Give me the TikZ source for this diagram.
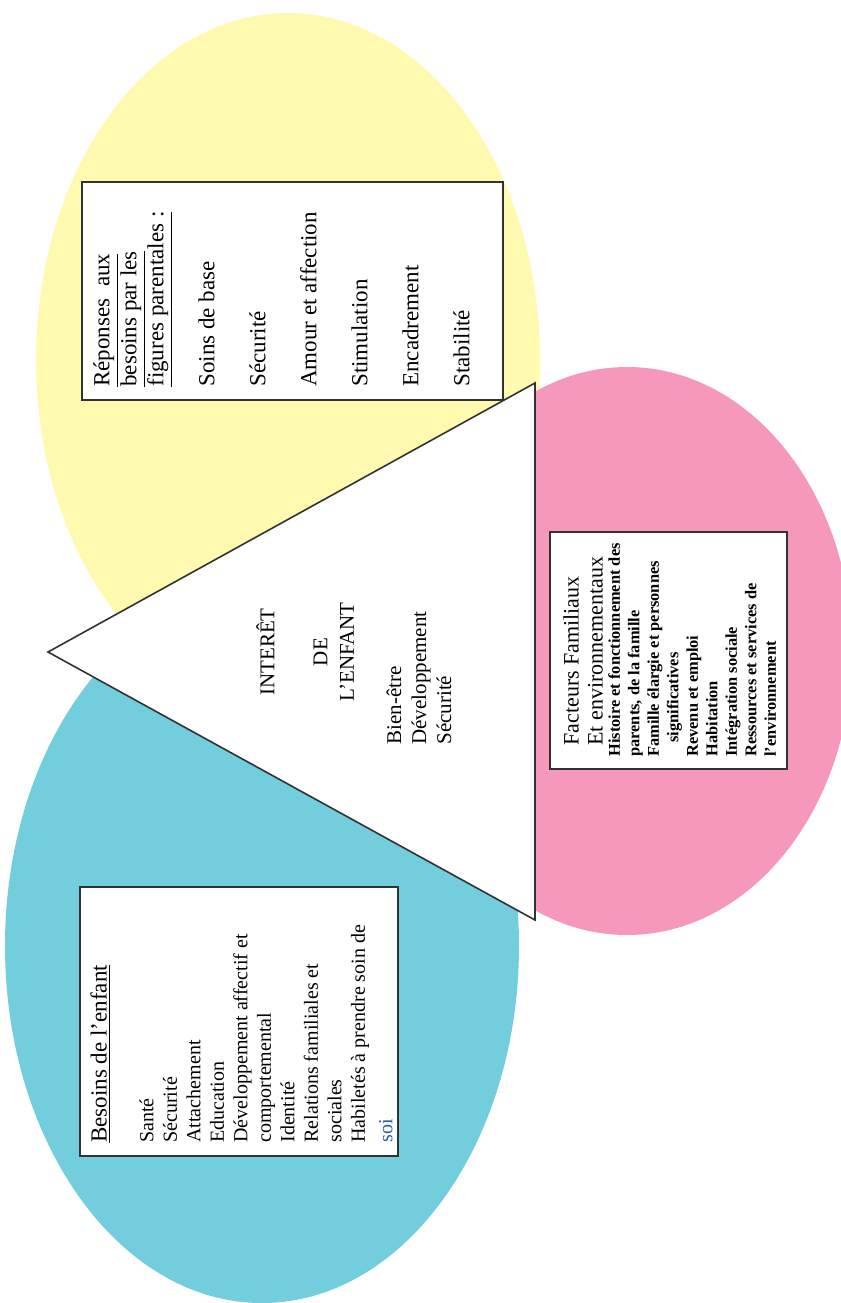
\documentclass[tikz,border=0pt]{standalone}
\usepackage{fontspec}
\setmainfont{Liberation Serif}
\definecolor{ylw}{RGB}{255,250,176}
\definecolor{blu}{RGB}{114,205,221}
\definecolor{pnk}{RGB}{245,152,188}
\definecolor{edgegray}{RGB}{50,50,50}
\definecolor{soiblue}{RGB}{40,95,160}
\begin{document}
\begin{tikzpicture}[x=0.5pt,y=-0.5pt,
  boxframe/.style={draw=edgegray, line width=1pt, fill=white},
  boxline/.style={draw=edgegray, line width=1pt},
  txt/.style={rotate=90, anchor=north west, inner sep=0pt, align=left, text=black},
]
\useasboundingbox (0,0) rectangle (841,1303);
\fill[white] (0,0) rectangle (841,1303);
\begin{scope}
\clip (0,0) rectangle (841,1303);
% coloured ovals
\fill[ylw] (288,360) ellipse [x radius=252, y radius=347];
\fill[blu] (262,946) ellipse [x radius=257, y radius=357];
\fill[pnk] (627,651) ellipse [x radius=225, y radius=284];
\end{scope}

% central triangle
\coordinate (apex) at (48,652);
\coordinate (topright) at (535,383);
\coordinate (botright) at (535,920);
\filldraw[fill=white, draw=edgegray, line width=0.8pt, line join=miter] (apex) -- (topright) -- (botright) -- cycle;

\node[rotate=90, align=center, inner sep=0pt, font=\fontsize{10.5}{13.25}\selectfont] (title) at (305,652)
  {INTERÊT\\[13.25pt]DE\\L’ENFANT};
\node[txt, font=\fontsize{10.5}{12.5}\selectfont] (sub) at (386,745)
  {Bien-être\\Développement\\Sécurité};

% yellow box
\path[boxframe] (82,182) rectangle (503,400);
\node[txt, font=\fontsize{11.5}{13.5}\selectfont] (ytxt) at (93,387)
  {\underline{Réponses\hspace{0.5em}aux}\\
   \underline{besoins par les}\\
   \underline{figures parentales :}\\[12pt]
   Soins de base\\[12pt]
   Sécurité\\[12pt]
   Amour et affection\\[12pt]
   Stimulation\\[12pt]
   Encadrement\\[12pt]
   Stabilité};

% pink box
\path[boxframe] (550,532) rectangle (787,769);
\node[txt, font=\fontsize{11}{12}\selectfont] (ptitle) at (563,746)
  {Facteurs Familiaux\\Et environnementaux};
\node[txt, font=\fontsize{8.2}{9.75}\selectfont\bfseries] (plist) at (608,757)
  {Histoire et fonctionnement des\\
   parents, de la famille\\
   Famille élargie et personnes\\
   \hspace*{7pt}significatives\\
   Revenu et emploi\\
   Habitation\\
   Intégration sociale\\
   Ressources et services de\\
   l’environnement};

% blue box
\path[fill=white] (80,887) rectangle (398,1156);
\node[txt, font=\fontsize{11.5}{13}\selectfont] (btitle) at (90,1143)
  {\underline{Besoins de l’enfant}};
\node[txt, font=\fontsize{10}{11.75}\selectfont] (blist) at (139,1143)
  {Santé\\
   Sécurité\\
   Attachement\\
   Education\\
   Développement affectif et\\
   comportemental\\
   Identité\\
   Relations familiales et\\
   sociales\\
   Habiletés à prendre soin de\\[2pt]
   \textcolor{soiblue}{soi}};
\path[boxline] (80,887) rectangle (398,1156);
\end{tikzpicture}
\end{document}
